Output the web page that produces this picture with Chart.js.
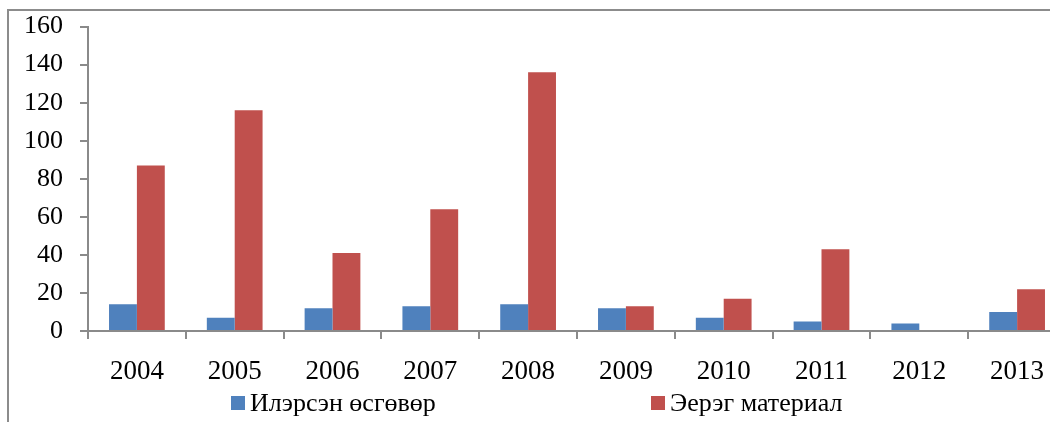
<!DOCTYPE html>
<html>
<head>
<meta charset="utf-8">
<script src="https://cdn.jsdelivr.net/npm/chart.js@4/dist/chart.umd.min.js"></script>
<style>
  html, body { margin: 0; padding: 0; background: #fff; overflow: hidden; }
  #wrap { position: relative; width: 1050px; height: 422px; overflow: hidden; }
  #frame { position: absolute; left: 7px; top: 9px; width: 1100px; height: 500px;
           border-left: 2px solid #8c8c8c; border-top: 2px solid #8c8c8c; }
  #box { position: absolute; left: 0; top: -6px; width: 1068px; height: 428px; }
</style>
</head>
<body>
<div id="wrap">
  <div id="frame"></div>
  <div id="box"><canvas id="chart"></canvas></div>
</div>
<script>
var years = ['2004', '2005', '2006', '2007', '2008', '2009', '2010', '2011', '2012', '2013'];
var ilersen = [14, 7, 12, 13, 14, 12, 7, 5, 4, 10];
var eereg = [87, 116, 41, 64, 136, 13, 17, 43, 0, 22];
var seriesNames = ['Илэрсэн өсгөвөр', 'Эерэг материал'];
var seriesColors = ['#4F81BD', '#C0504D'];
var yTicks = [0, 20, 40, 60, 80, 100, 120, 140, 160];

var serif = "'Liberation Serif', 'Times New Roman', serif";
var axisGray = '#8a8a8a';

var data = {
  labels: years,
  datasets: [
    { label: seriesNames[0], data: ilersen, backgroundColor: seriesColors[0] },
    { label: seriesNames[1], data: eereg, backgroundColor: seriesColors[1] }
  ]
};

// legend drawn by hand: the two items sit far apart in the original
var spreadLegend = {
  id: 'spreadLegend',
  afterDraw: function(chart) {
    var ctx = chart.ctx;
    var itemX = [231, 651];
    ctx.save();
    ctx.font = '26px ' + serif;
    ctx.textBaseline = 'alphabetic';
    ctx.textAlign = 'left';
    chart.data.datasets.forEach(function(ds, i) {
      ctx.fillStyle = ds.backgroundColor;
      ctx.fillRect(itemX[i], 402, 14, 14);
      ctx.fillStyle = '#000';
      ctx.fillText(ds.label, itemX[i] + 19, 417);
    });
    ctx.restore();
  }
};

var options = {
  responsive: true,
  maintainAspectRatio: false,
  animation: false,
  layout: { padding: { top: 19, right: 2, bottom: 0, left: 0 } },
  datasets: { bar: { categoryPercentage: 0.57, barPercentage: 1.0 } },
  plugins: { legend: { display: false }, tooltip: { enabled: false } },
  scales: {
    x: {
      grid: { drawOnChartArea: false, drawTicks: true, tickLength: 8, color: axisGray, lineWidth: 2, offset: true },
      border: { color: axisGray, width: 2 },
      ticks: { color: '#000', font: { family: serif, size: 27 }, padding: 17, maxRotation: 0 },
      afterFit: function(scale) { scale.height = 91; }
    },
    y: {
      min: 0, max: 160,
      afterBuildTicks: function(scale) {
        scale.ticks = yTicks.map(function(v) { return { value: v }; });
      },
      grid: { drawOnChartArea: false, drawTicks: true, tickLength: 8, color: axisGray, lineWidth: 2 },
      border: { color: axisGray, width: 2 },
      ticks: { color: '#000', font: { family: serif, size: 26 }, padding: 17 },
      afterFit: function(scale) { scale.width = 88; }
    }
  }
};

new Chart(document.getElementById('chart').getContext('2d'), {
  type: 'bar',
  data: data,
  options: options,
  plugins: [spreadLegend]
});
</script>
</body>
</html>
